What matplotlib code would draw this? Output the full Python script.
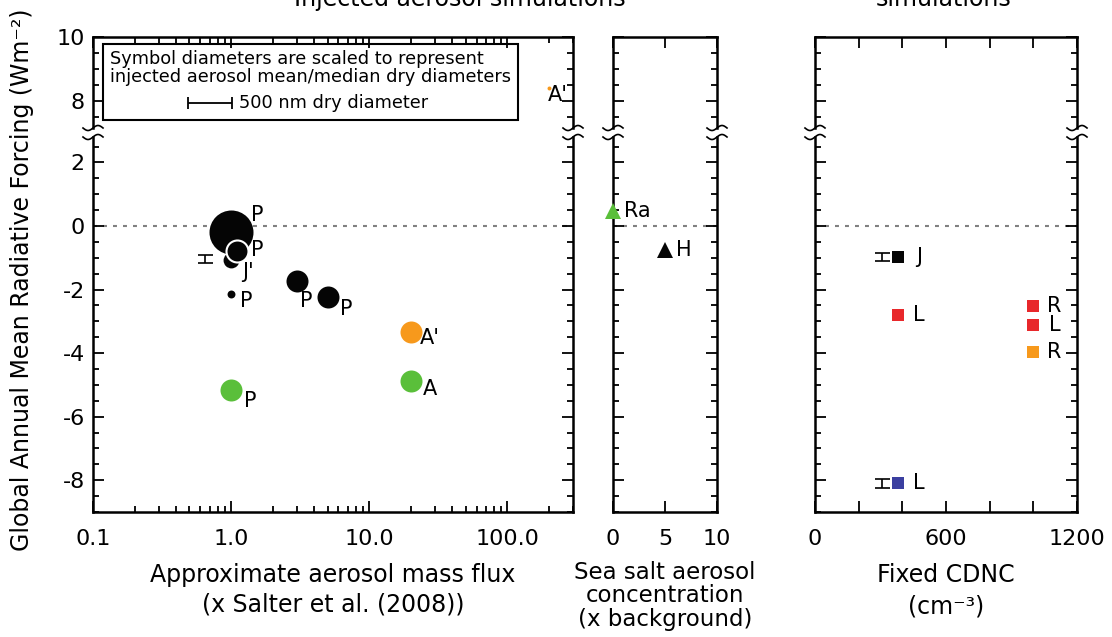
import numpy as np
import matplotlib
matplotlib.use("Agg")
import matplotlib.pyplot as plt
from matplotlib.lines import Line2D
from matplotlib.patches import Rectangle
from matplotlib.ticker import MultipleLocator, LogLocator, NullFormatter

plt.rcParams["font.family"] = "DejaVu Sans"
plt.rcParams["axes.unicode_minus"] = False

# ---- data ----
# injected aerosol simulations (left panel)
flux = [1.0, 1.0, 1.1, 1.0, 3.0, 5.0, 20.0, 20.0, 1.0, 200.0]
flux_rf = [-0.2, -1.07, -0.78, -2.13, -1.72, -2.23, -3.35, -4.88, -5.17, 8.4]
flux_diam = [500, 180, 250, 90, 250, 250, 250, 250, 250, 45]  # nm dry diameter
flux_col = ["black", "black", "black", "black", "black", "black",
            "orange", "green", "green", "orange"]
flux_lab = ["P", "J'", "P", "P", "P", "P", "A'", "A", "P", "A'"]
flux_err_x, flux_err_y, flux_err = [0.65], [-1.05], [0.13]

# sea salt simulations (middle panel)
salt = [0, 5]
salt_rf = [0.47, -0.75]
salt_col = ["green", "black"]
salt_lab = ["Ra", "H"]

# fixed CDNC simulations (right panel)
cdnc = [380, 380, 1000, 1000, 1000, 380]
cdnc_rf = [-0.98, -2.79, -2.53, -3.13, -3.96, -8.1]
cdnc_col = ["black", "red", "red", "red", "orange", "blue"]
cdnc_lab = ["J", "L", "R", "L", "R", "L"]
cdnc_err_x, cdnc_err_y, cdnc_err = [307, 307], [-0.98, -8.1], [0.13, 0.13]

palette = {"black": "#050505", "green": "#5abf3a", "orange": "#f7991c",
           "red": "#e8282b", "blue": "#3b3fa0"}

# ---- layout (pixels) ----
W, H = 1112, 637
PX_PER_NM = 44 / 500.0
cols = [(93, 573), (613, 717), (815, 1077)]
TOP_Y, BRK1, BRK2, BOT_Y = 37, 128, 137, 512


def frac(x0, x1, yt, yb):
    return [x0 / W, 1 - yb / H, (x1 - x0) / W, (yb - yt) / H]


fig = plt.figure(figsize=(W / 100, H / 100), dpi=100)
tops, bots = [], []
for x0, x1 in cols:
    at = fig.add_axes(frac(x0, x1, TOP_Y, BRK1))
    ab = fig.add_axes(frac(x0, x1, BRK2, BOT_Y))
    at.set_ylim(7.15, 10)
    ab.set_ylim(-9, 2.8)
    for ax, part in ((at, "top"), (ab, "bot")):
        ax.tick_params(which="both", direction="in", top=True, right=True,
                       width=1.3, labelsize=16)
        ax.tick_params(which="major", length=8)
        ax.tick_params(which="minor", length=4)
        ax.tick_params(axis="x", pad=12)
        ax.tick_params(axis="y", pad=6)
        for s in ax.spines.values():
            s.set_linewidth(1.8)
        ax.yaxis.set_major_locator(MultipleLocator(2))
        ax.yaxis.set_minor_locator(MultipleLocator(0.5))
        if part == "top":
            ax.spines["bottom"].set_visible(False)
            ax.tick_params(axis="x", which="both", bottom=False, labelbottom=False)
        else:
            ax.spines["top"].set_visible(False)
            ax.tick_params(axis="x", which="both", top=False)
        ax.axhline(0, color="#808080", lw=1.5, ls=(0, (1.9, 2.9)), zorder=1)
    tops.append(at)
    bots.append(ab)

# x axes
for ax in (tops[0], bots[0]):
    ax.set_xscale("log")
    ax.set_xlim(0.1, 300)
    ax.set_xticks([0.1, 1, 10, 100], labels=["0.1", "1.0", "10.0", "100.0"])
    ax.xaxis.set_minor_locator(LogLocator(base=10, subs=np.arange(2, 10)))
    ax.xaxis.set_minor_formatter(NullFormatter())
for ax in (tops[1], bots[1]):
    ax.set_xlim(0, 10)
    ax.set_xticks([0, 5, 10], labels=["0", "5", "10"])
for ax in (tops[2], bots[2]):
    ax.set_xlim(0, 1200)
    ax.set_xticks(range(0, 1201, 200),
                  labels=["0", "", "", "600", "", "", "1200"])
for ax in tops[1:] + bots[1:]:
    ax.tick_params(axis="y", labelleft=False)

# ---- points ----
flux_off = [(26, 17), (17, -12), (20, 1), (15, -7), (9, -20), (19, -12),
            (19, -6), (19, -8), (19, -11), (9, -7)]
for ax in (tops[0], bots[0]):
    ax.errorbar(flux_err_x, flux_err_y, yerr=flux_err, fmt="none", ecolor="k",
                elinewidth=1.2, capsize=5.4, capthick=1.2)
    for i in range(len(flux)):
        edge = "white" if i == 2 else palette[flux_col[i]]
        ax.plot(flux[i], flux_rf[i], "o", ms=flux_diam[i] * PX_PER_NM * 0.72,
                color=palette[flux_col[i]], mec=edge, mew=1.5 if i == 2 else 0,
                zorder=3)
        ax.annotate(flux_lab[i], (flux[i], flux_rf[i]), xytext=flux_off[i],
                    textcoords="offset pixels", ha="center", va="center",
                    fontsize=15, zorder=4)

salt_off = [(24, 0), (19, 0)]
ax = bots[1]
for i in range(len(salt)):
    ax.plot(salt[i], salt_rf[i], "^", ms=11.5, color=palette[salt_col[i]],
            mew=0, clip_on=False, zorder=3)
    ax.annotate(salt_lab[i], (salt[i], salt_rf[i]), xytext=salt_off[i],
                textcoords="offset pixels", ha="center", va="center",
                fontsize=15)

for ax in (tops[2], bots[2]):
    ax.errorbar(cdnc_err_x, cdnc_err_y, yerr=cdnc_err, fmt="none", ecolor="k",
                elinewidth=1.2, capsize=5.4, capthick=1.2)
    for i in range(len(cdnc)):
        ax.plot(cdnc[i], cdnc_rf[i], "s", ms=8.6, color=palette[cdnc_col[i]],
                mew=0, zorder=3)
        ax.annotate(cdnc_lab[i], (cdnc[i], cdnc_rf[i]), xytext=(21, 0),
                    textcoords="offset pixels", ha="center", va="center",
                    fontsize=15)

# ---- symbol size key ----
ax = tops[0]
ax.add_patch(Rectangle((0.021, 0.088), 0.864, 0.835, transform=ax.transAxes,
                       fill=False, lw=1.5, ec="k", zorder=5))
ax.text(0.035, 0.76, "Symbol diameters are scaled to represent",
        transform=ax.transAxes, fontsize=12.8, va="center")
ax.text(0.035, 0.56, "injected aerosol mean/median dry diameters",
        transform=ax.transAxes, fontsize=12.8, va="center")
bar_len = 500 * PX_PER_NM / (cols[0][1] - cols[0][0])
ax.errorbar([0.198 + bar_len / 2], [0.275], xerr=[bar_len / 2], fmt="none",
            ecolor="k", elinewidth=1.3, capsize=4, capthick=1.3,
            transform=ax.transAxes)
ax.text(0.305, 0.275, "500 nm dry diameter", transform=ax.transAxes,
        fontsize=12.8, va="center")

# ---- axis break marks ----
t = np.linspace(-1, 1, 40)
for x0, x1 in cols:
    for xs in (x0, x1):
        for yb in (BRK1, BRK2):
            px = xs + 10 * t
            py = yb - 2.5 * np.sin(np.pi * t)
            fig.add_artist(Line2D(px / W, 1 - py / H, transform=fig.transFigure,
                                  color="k", lw=1.2))

# ---- labels ----
fig.text(22 / W, 1 - 280 / H, "Global Annual Mean Radiative Forcing (Wm⁻²)",
         rotation=90, ha="center", va="center", fontsize=17)
fig.text(333 / W, 1 - 563 / H, "Approximate aerosol mass flux\n(x Salter et al. (2008))",
         ha="center", va="top", fontsize=17, linespacing=1.3)
fig.text(665 / W, 1 - 561 / H, "Sea salt aerosol\nconcentration\n(x background)",
         ha="center", va="top", fontsize=16.5, linespacing=1.02)
fig.text(946 / W, 1 - 563 / H, "Fixed CDNC\n(cm⁻³)",
         ha="center", va="top", fontsize=17, linespacing=1.4)
fig.text(460 / W, 1 - 6 / H, "Injected aerosol simulations",
         ha="center", va="baseline", fontsize=17)
fig.text(944 / W, 1 - 6 / H, "Fixed CDNC\nsimulations",
         ha="center", va="baseline", fontsize=17)

fig.savefig("out.png", dpi=100)
